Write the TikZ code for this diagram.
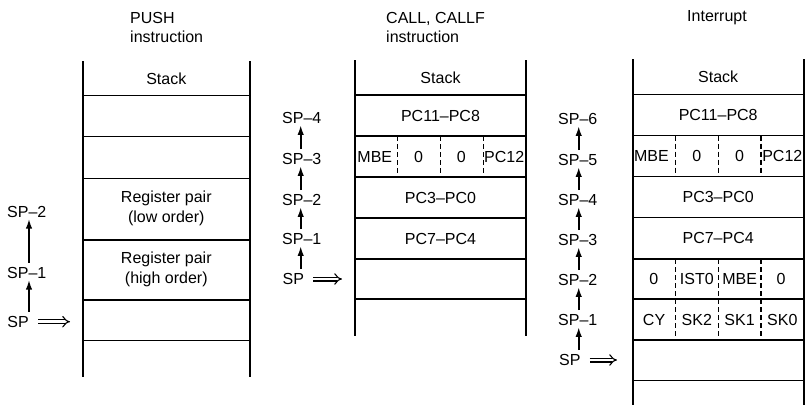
\documentclass[tikz,border=0pt]{standalone}
\usepackage{fontspec}
\setmainfont{Liberation Sans}
\newcommand{\labelfont}{\fontsize{16}{19}\selectfont}
\newcommand{\pairfont}{\fontsize{16}{20}\selectfont}
\usetikzlibrary{arrows.meta}
\begin{document}
\begin{tikzpicture}[x=1pt,y=-1pt,
  wall/.style={line width=1.9pt},
  rule/.style={line width=1.5pt},
  divider/.style={line width=1.3pt, dash pattern=on 5pt off 3pt},
  heading/.style={inner sep=0pt, align=left, font=\labelfont},
  cell/.style={inner sep=0pt, text height=11.5pt, text depth=0pt, font=\labelfont},
  cellpair/.style={inner sep=0pt, align=center, font=\pairfont},
  splabel/.style={anchor=west, inner sep=0pt, text height=11.5pt, text depth=0pt, font=\labelfont},
  popup/.style={line width=1.9pt, -{Latex[length=10pt,width=6.5pt]}, shorten <=4pt, shorten >=1pt},
  pointer/.style={double, double distance=2.8pt, line width=1.1pt, -{Implies}, shorten <=9pt}
]
\useasboundingbox (0,0) rectangle (807,405);

% ---------------- PUSH instruction ----------------
\node[heading, anchor=north west] (t1) at (130,11.7) {PUSH\\instruction};
\draw[wall] (82.7,61) -- (82.7,377) (250,61) -- (250,377);
\foreach \y in {95.7,136.3,178.3,240,300,340.7}
  \draw[rule] (82.7,\y) -- (250,\y);
\node[cell] (a0) at (166.3,78.3) {Stack};
\node[cellpair] (a1) at (166.3,208.5) {Register pair\\(low order)};
\node[cellpair] (a2) at (166.3,269.5) {Register pair\\(high order)};

\node[splabel] (p1s0) at (7.3,321.7) {SP};
\node[splabel] (p1s1) at (7,272.7) {SP–1};
\node[splabel] (p1s2) at (7,211.7) {SP–2};
\coordinate (p1x) at (29,0);
\coordinate (p1ptr) at (70,321.7);
\draw[popup] (p1s0.north -| p1x) -- (p1s1.south -| p1x);
\draw[popup] (p1s1.north -| p1x) -- (p1s2.south -| p1x);
\draw[pointer] (p1s0.east) -- (p1ptr);

% ---------------- CALL, CALLF instruction ----------------
\node[heading, anchor=north west] (t2) at (386,11.7) {CALL, CALLF\\instruction};
\draw[wall] (355,60) -- (355,336) (526,60) -- (526,336);
\foreach \y in {95,136,177,218,259,299}
  \draw[rule] (355,\y) -- (526,\y);
\foreach \x in {397.75,440.5,483.25}
  \draw[divider] (\x,136) -- (\x,177);
\node[cell] (b0) at (440.5,77.5) {Stack};
\node[cell] (b1) at (440.5,115.5) {PC11–PC8};
\node[cell] (b2a) at (374.8,156.5) {MBE};
\node[cell] (b2b) at (418.6,156.5) {0};
\node[cell] (b2c) at (461.2,156.5) {0};
\node[cell] (b2d) at (504.2,156.5) {PC12};
\node[cell] (b3) at (440.5,197.5) {PC3–PC0};
\node[cell] (b4) at (440.5,238.5) {PC7–PC4};

\node[splabel] (p2s0) at (282.5,279) {SP};
\node[splabel] (p2s1) at (282,239) {SP–1};
\node[splabel] (p2s2) at (282,200) {SP–2};
\node[splabel] (p2s3) at (282,159) {SP–3};
\node[splabel] (p2s4) at (282,118) {SP–4};
\coordinate (p2x) at (300.7,0);
\coordinate (p2ptr) at (342,279);
\draw[popup] (p2s0.north -| p2x) -- (p2s1.south -| p2x);
\draw[popup] (p2s1.north -| p2x) -- (p2s2.south -| p2x);
\draw[popup] (p2s2.north -| p2x) -- (p2s3.south -| p2x);
\draw[popup] (p2s3.north -| p2x) -- (p2s4.south -| p2x);
\draw[pointer] (p2s0.east) -- (p2ptr);

% ---------------- Interrupt ----------------
\node[heading, anchor=base] (t3) at (717,21.7) {Interrupt};
\draw[wall] (632.7,59) -- (632.7,405) (803.7,59) -- (803.7,405);
\foreach \y in {94.3,135.7,176.7,217.3,259,299,340,380.7}
  \draw[rule] (632.7,\y) -- (803.7,\y);
\foreach \x in {675.45,718.2,760.95}
  \draw[divider] (\x,135.7) -- (\x,176.7)
                 (\x,259) -- (\x,340);
\node[cell] (c0) at (718.2,77) {Stack};
\node[cell] (c1) at (718.2,115) {PC11–PC8};
\node[cell] (c2a) at (651.5,156.2) {MBE};
\node[cell] (c2b) at (696.8,156.2) {0};
\node[cell] (c2c) at (739.6,156.2) {0};
\node[cell] (c2d) at (782.3,156.2) {PC12};
\node[cell] (c3) at (718.2,197) {PC3–PC0};
\node[cell] (c4) at (718.2,238) {PC7–PC4};
\node[cell] (c5a) at (653.8,279) {0};
\node[cell] (c5b) at (696.8,279) {IST0};
\node[cell] (c5c) at (739.6,279) {MBE};
\node[cell] (c5d) at (781,279) {0};
\node[cell] (c6a) at (654.1,319.5) {CY};
\node[cell] (c6b) at (696.8,319.5) {SK2};
\node[cell] (c6c) at (739.6,319.5) {SK1};
\node[cell] (c6d) at (782.3,319.5) {SK0};

\node[splabel] (p3s0) at (559,360) {SP};
\node[splabel] (p3s1) at (558,320) {SP–1};
\node[splabel] (p3s2) at (558,280) {SP–2};
\node[splabel] (p3s3) at (558,240) {SP–3};
\node[splabel] (p3s4) at (558,200) {SP–4};
\node[splabel] (p3s5) at (558,160) {SP–5};
\node[splabel] (p3s6) at (558,119) {SP–6};
\coordinate (p3x) at (578.7,0);
\coordinate (p3ptr) at (617,360);
\draw[popup] (p3s0.north -| p3x) -- (p3s1.south -| p3x);
\draw[popup] (p3s1.north -| p3x) -- (p3s2.south -| p3x);
\draw[popup] (p3s2.north -| p3x) -- (p3s3.south -| p3x);
\draw[popup] (p3s3.north -| p3x) -- (p3s4.south -| p3x);
\draw[popup] (p3s4.north -| p3x) -- (p3s5.south -| p3x);
\draw[popup] (p3s5.north -| p3x) -- (p3s6.south -| p3x);
\draw[pointer] (p3s0.east) -- (p3ptr);
\end{tikzpicture}
\end{document}
